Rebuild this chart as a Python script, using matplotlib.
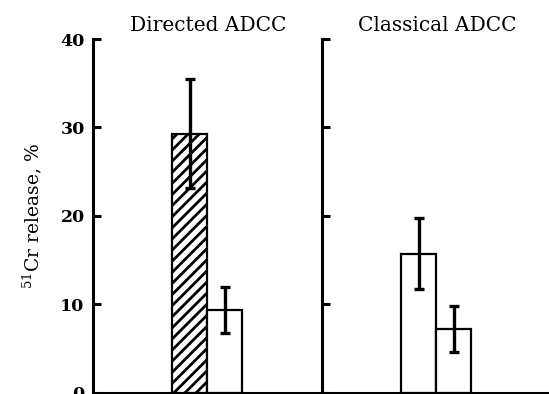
import matplotlib
matplotlib.use("Agg")
import matplotlib.pyplot as plt

panels = ["Directed ADCC", "Classical ADCC"]
values = [[29.3, 9.3], [15.7, 7.2]]
errors = [[6.2, 2.6], [4.0, 2.6]]
hatches = [["///", ""], ["", ""]]
yticks = [0, 10, 20, 30, 40]
ylabel = r"$^{51}$Cr release, %"

plt.rcParams["font.family"] = ["DejaVu Serif"]
plt.rcParams["mathtext.fontset"] = "dejavuserif"
plt.rcParams["hatch.linewidth"] = 2.0

fig = plt.figure(figsize=(5.49, 3.94), dpi=100)
W, H = 549.0, 394.0
axw = 230.0 / W
bottom = (H - 392.5) / H
top = (H - 39.0) / H
lefts = [93.0 / W, 322.0 / W]

for i, name in enumerate(panels):
    ax = fig.add_axes([lefts[i], bottom, axw, top - bottom])
    ax.set_facecolor("none")
    for j, v in enumerate(values[i]):
        ax.bar(j, v, width=1.0, color="white", edgecolor="black",
               linewidth=1.6, hatch=hatches[i][j], zorder=2)
        ax.errorbar(j, v, yerr=errors[i][j], fmt="none", ecolor="black",
                    elinewidth=2.4, capsize=3.5, capthick=2.4, zorder=3)
    ax.set_xlim(-2.76, 3.81)
    ax.set_ylim(0, 40)
    ax.set_yticks(yticks)
    ax.set_xticks([])
    for s in ["top", "right"]:
        ax.spines[s].set_visible(False)
    for s in ["left", "bottom"]:
        ax.spines[s].set_linewidth(2.2)
    ax.tick_params(axis="y", direction="in", length=6, width=2.2, pad=6,
                   labelsize=12.5)
    if i == 0:
        for lab in ax.get_yticklabels():
            lab.set_fontweight("bold")
        ax.set_ylabel(ylabel, fontsize=13.5, labelpad=12)
    else:
        ax.set_yticklabels([])
    ax.text(0.5, 1.012, name, transform=ax.transAxes, ha="center",
            va="bottom", fontsize=14.5)

fig.savefig("out.png", dpi=100)
